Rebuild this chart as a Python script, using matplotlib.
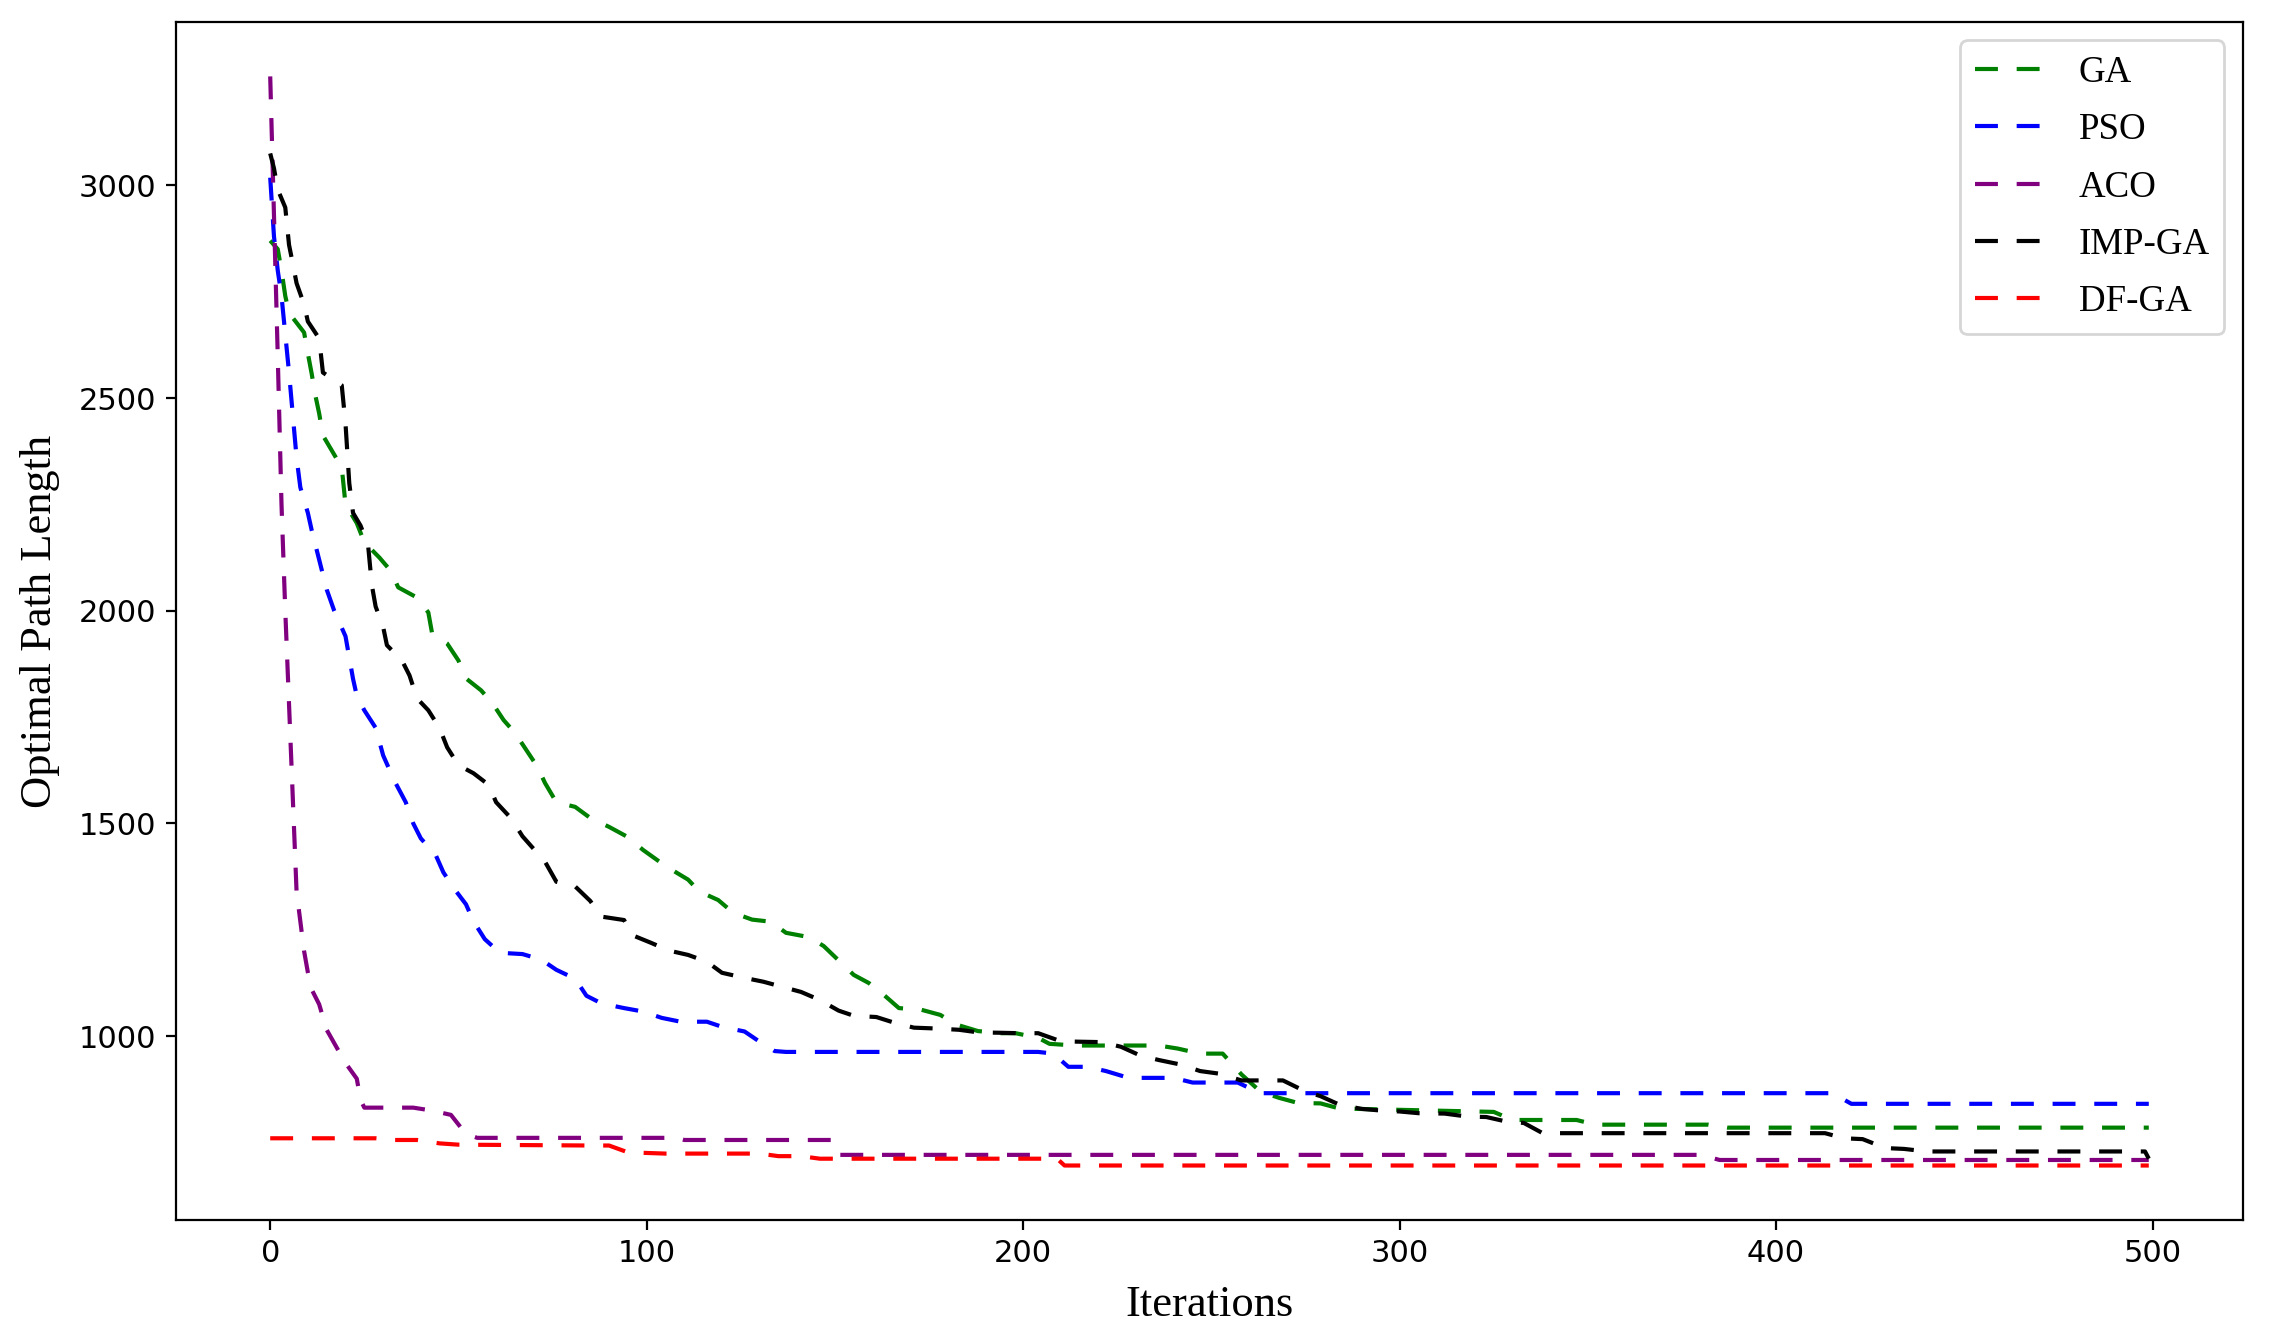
import matplotlib
matplotlib.use("Agg")
import matplotlib.pyplot as plt

# values (iteration, best path length)
ga_x = [0, 2, 3, 4, 5, 9, 10, 11, 12, 13, 14, 16, 19, 20, 23, 25, 29, 32, 34, 39,
        42, 43, 47, 50, 52, 56, 59, 62, 65, 68, 71, 73, 76, 81, 85, 90, 95, 99, 105,
        111, 114, 119, 123, 128, 133, 137, 143, 147, 151, 155, 159, 163, 167, 173,
        178, 182, 188, 194, 198, 204, 207, 214, 236, 241, 247, 253, 258, 263, 268,
        273, 279, 284, 325, 330, 347, 352, 382, 387, 499]
ga_y = [2870, 2850, 2800, 2740, 2700, 2654, 2605, 2558, 2506, 2464, 2412, 2382, 2337,
        2250, 2206, 2161, 2125, 2094, 2055, 2031, 1996, 1947, 1923, 1883, 1841, 1813,
        1783, 1743, 1713, 1673, 1633, 1595, 1550, 1539, 1513, 1492, 1468, 1438, 1400,
        1368, 1340, 1320, 1290, 1274, 1269, 1243, 1233, 1212, 1178, 1144, 1125, 1097,
        1066, 1062, 1050, 1028, 1012, 1007, 1007, 996, 982, 978, 978, 971, 959, 959,
        910, 870, 855, 843, 842, 830, 822, 803, 803, 792, 792, 785, 785]

pso_x = [0, 1, 2, 3, 4, 5, 6, 7, 8, 10, 11, 13, 15, 17, 20, 22, 23, 25, 28, 30, 33,
         36, 38, 40, 44, 46, 49, 52, 54, 57, 61, 67, 72, 76, 81, 84, 88, 94, 99, 104,
         109, 116, 120, 126, 130, 134, 137, 204, 208, 212, 217, 222, 228, 240, 245,
         257, 263, 415, 420, 499]
pso_y = [3018, 2880, 2800, 2740, 2650, 2560, 2460, 2360, 2290, 2230, 2190, 2120, 2050,
         2000, 1940, 1840, 1800, 1766, 1725, 1660, 1600, 1550, 1500, 1465, 1425, 1385,
         1345, 1310, 1270, 1228, 1196, 1193, 1180, 1156, 1135, 1095, 1077, 1066, 1058,
         1043, 1034, 1034, 1022, 1011, 987, 965, 963, 963, 959, 928, 928, 918, 902, 902,
         891, 891, 866, 866, 841, 841]

aco_x = [0, 1, 2, 3, 4, 5, 6, 7, 9, 10, 11, 13, 15, 18, 20, 23, 24, 25, 38, 43, 48,
         52, 55, 108, 110, 149, 151, 380, 385, 499]
aco_y = [3256, 2930, 2600, 2250, 2000, 1780, 1560, 1340, 1200, 1150, 1110, 1075, 1015,
         968, 937, 900, 850, 832, 832, 825, 815, 770, 761, 761, 756, 756, 721, 721,
         709, 709]

imp_x = [0, 1, 2, 4, 5, 6, 7, 9, 10, 13, 14, 19, 20, 21, 22, 24, 26, 27, 28, 30, 31,
         35, 37, 39, 42, 45, 47, 50, 54, 58, 60, 64, 67, 70, 73, 76, 81, 85, 88, 94,
         96, 101, 106, 111, 116, 120, 126, 131, 136, 141, 146, 151, 155, 161, 166,
         171, 177, 183, 188, 194, 199, 204, 210, 215, 221, 226, 231, 236, 242, 247,
         252, 258, 269, 275, 279, 284, 290, 294, 300, 305, 312, 318, 323, 328, 333,
         338, 413, 418, 423, 429, 434, 440, 498, 499]
imp_y = [3075, 3040, 2990, 2948, 2860, 2816, 2770, 2720, 2680, 2640, 2560, 2530, 2440,
         2300, 2230, 2200, 2154, 2060, 2010, 1962, 1919, 1883, 1848, 1794, 1766, 1724,
         1679, 1637, 1618, 1591, 1550, 1512, 1470, 1440, 1410, 1363, 1352, 1318, 1281,
         1273, 1238, 1220, 1201, 1191, 1175, 1149, 1137, 1128, 1116, 1104, 1085, 1060,
         1048, 1045, 1031, 1020, 1018, 1015, 1009, 1008, 1007, 1007, 988, 987, 986,
         975, 955, 944, 933, 918, 912, 896, 896, 870, 859, 839, 829, 826, 823, 819,
         818, 811, 810, 800, 796, 772, 772, 760, 758, 737, 735, 729, 729, 712]

df_x = [0, 28, 33, 39, 45, 50, 85, 90, 95, 105, 130, 135, 141, 146, 209, 211, 499]
df_y = [760, 760, 756, 756, 748, 745, 743, 743, 727, 724, 724, 718, 718, 712, 712,
        696, 696]

series = [
    ("GA", ga_x, ga_y, "green"),
    ("PSO", pso_x, pso_y, "blue"),
    ("ACO", aco_x, aco_y, "purple"),
    ("IMP-GA", imp_x, imp_y, "black"),
    ("DF-GA", df_x, df_y, "red"),
]

serif = ["Liberation Serif", "DejaVu Serif"]

fig, ax = plt.subplots(figsize=(11.405, 6.695), dpi=200)
fig.subplots_adjust(left=0.0772, right=0.9833, top=0.9836, bottom=0.0889)

for name, xs, ys, col in series:
    ax.plot(xs, ys, linestyle=(0, (5.5, 4.5)), color=col, lw=1.5, label=name)

ax.set_xlim(-25, 524)
ax.set_ylim(568, 3384)
ax.set_xticks([0, 100, 200, 300, 400, 500])
ax.set_yticks([1000, 1500, 2000, 2500, 3000])
ax.tick_params(labelsize=11)

ax.set_xlabel("Iterations", fontsize=16, family=serif, labelpad=6)
ax.set_ylabel("Optimal Path Length", fontsize=16, family=serif, labelpad=7)

ax.legend(loc="upper right", prop={"family": serif, "size": 13.3},
          labelspacing=0.62, handlelength=2.0, borderpad=0.4)

fig.savefig("out.png", dpi=200)
